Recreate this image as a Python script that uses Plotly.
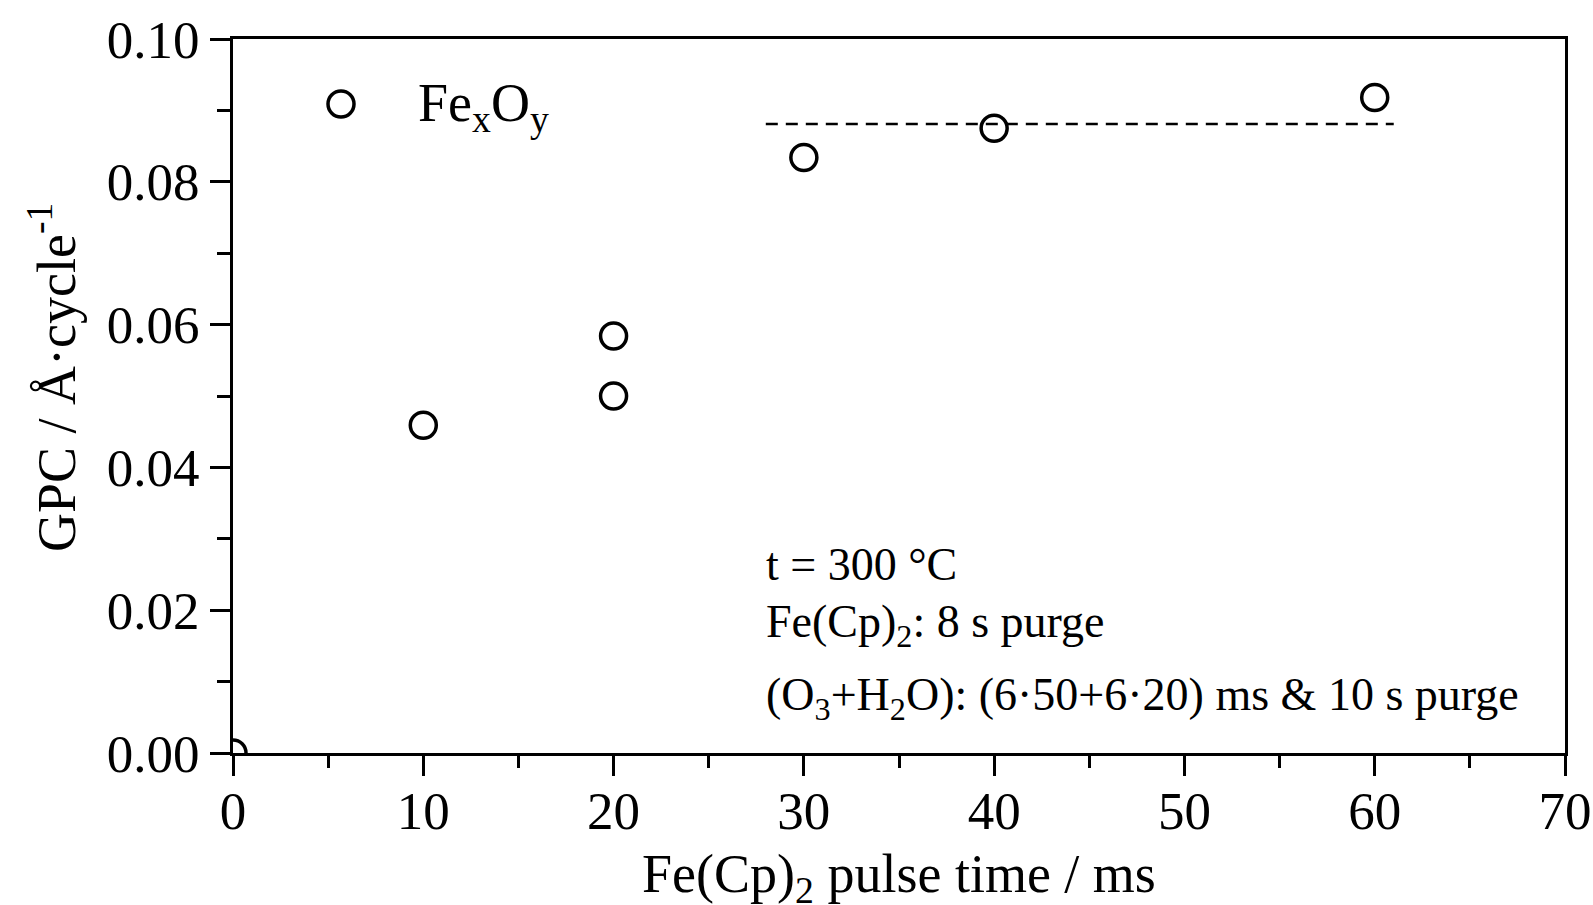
import plotly.graph_objects as go

# Fe(Cp)2 pulse time (ms) and growth per cycle (Å/cycle)
pulse_ms = [0, 10, 20, 20, 30, 40, 60]
gpc = [0.0, 0.0459, 0.0584, 0.0500, 0.0834, 0.0875, 0.0918]

# saturation guide line
sat_x = [28, 61]
sat_y = [0.0881, 0.0881]

x_ticks = [0, 10, 20, 30, 40, 50, 60, 70]
y_ticks = [0.00, 0.02, 0.04, 0.06, 0.08, 0.10]

FONT = "Liberation Serif"
BLACK = "#000000"

# plot-area geometry in pixels
W, H = 1593, 905
L, R, T, B = 233, 28, 39, 152
PW, PH = W - L - R, H - T - B


def px_x(px):
    return (px - L) / PW


def px_y(py):
    return (H - B - py) / PH


fig = go.Figure()

fig.add_trace(go.Scatter(
    x=sat_x, y=sat_y, mode="lines",
    line=dict(color=BLACK, width=2.5, dash="12px,8px"),
    showlegend=False, hoverinfo="skip",
))

fig.add_trace(go.Scatter(
    x=pulse_ms, y=gpc, mode="markers",
    name="Fe<sub>x</sub>O<sub>y</sub>",
    marker=dict(symbol="circle-open", size=26, color=BLACK,
                line=dict(width=3.5, color=BLACK)),
    cliponaxis=True, showlegend=False,
))

axis_common = dict(
    showline=True, linecolor=BLACK, linewidth=3, mirror=True,
    ticks="outside", ticklen=20, tickwidth=3, tickcolor=BLACK,
    showgrid=False, zeroline=False, automargin=False,
    tickfont=dict(family=FONT, size=53, color=BLACK),
)

fig.update_xaxes(
    range=[0, 70], tickvals=x_ticks, ticktext=[str(v) for v in x_ticks],
    minor=dict(ticks="outside", dtick=5, ticklen=12, tickwidth=3, tickcolor=BLACK),
    ticklabelstandoff=-11,
    **axis_common,
)
fig.update_yaxes(
    range=[0, 0.1], tickvals=y_ticks, ticktext=[f"{v:.2f}" for v in y_ticks],
    minor=dict(ticks="outside", dtick=0.01, ticklen=13, tickwidth=3, tickcolor=BLACK),
    **axis_common,
)

# axis titles as free text so they can sit close to the page edges
fig.add_annotation(
    text="Fe(Cp)<sub>2</sub> pulse time / ms", xref="paper", yref="paper",
    x=0.5, y=px_y(842), xanchor="center", yanchor="top",
    showarrow=False, font=dict(family=FONT, size=54, color=BLACK),
)
fig.add_annotation(
    text="GPC / Å·cycle<sup>-1</sup>", xref="paper", yref="paper",
    x=px_x(52), y=px_y(378), xanchor="center", yanchor="middle",
    textangle=-90, showarrow=False,
    font=dict(family=FONT, size=54, color=BLACK),
)

# legend key: open circle plus label
fig.add_shape(
    type="circle", xref="paper", yref="paper",
    xsizemode="pixel", ysizemode="pixel",
    xanchor=px_x(341), yanchor=px_y(104),
    x0=-13, x1=13, y0=-13, y1=13,
    line=dict(color=BLACK, width=3.5), fillcolor="rgba(0,0,0,0)",
)
fig.add_annotation(
    text="Fe<sub>x</sub>O<sub>y</sub>", xref="paper", yref="paper",
    x=px_x(416), y=px_y(142), xanchor="left", yanchor="bottom",
    showarrow=False, font=dict(family=FONT, size=54, color=BLACK),
)

notes = [
    ("t = 300 °C", 592),
    ("Fe(Cp)<sub>2</sub>: 8 s purge", 656),
    ("(O<sub>3</sub>+H<sub>2</sub>O): (6·50+6·20) ms &amp; 10 s purge", 729),
]
for txt, ybox in notes:
    fig.add_annotation(
        text=txt, xref="paper", yref="paper",
        x=px_x(764), y=px_y(ybox),
        xanchor="left", yanchor="bottom", showarrow=False,
        font=dict(family=FONT, size=46, color=BLACK),
    )

fig.update_layout(
    width=W, height=H,
    margin=dict(l=L, r=R, t=T, b=B),
    paper_bgcolor="white", plot_bgcolor="white",
    font=dict(family=FONT, color=BLACK),
    showlegend=False,
)

fig.write_html("out.html")
